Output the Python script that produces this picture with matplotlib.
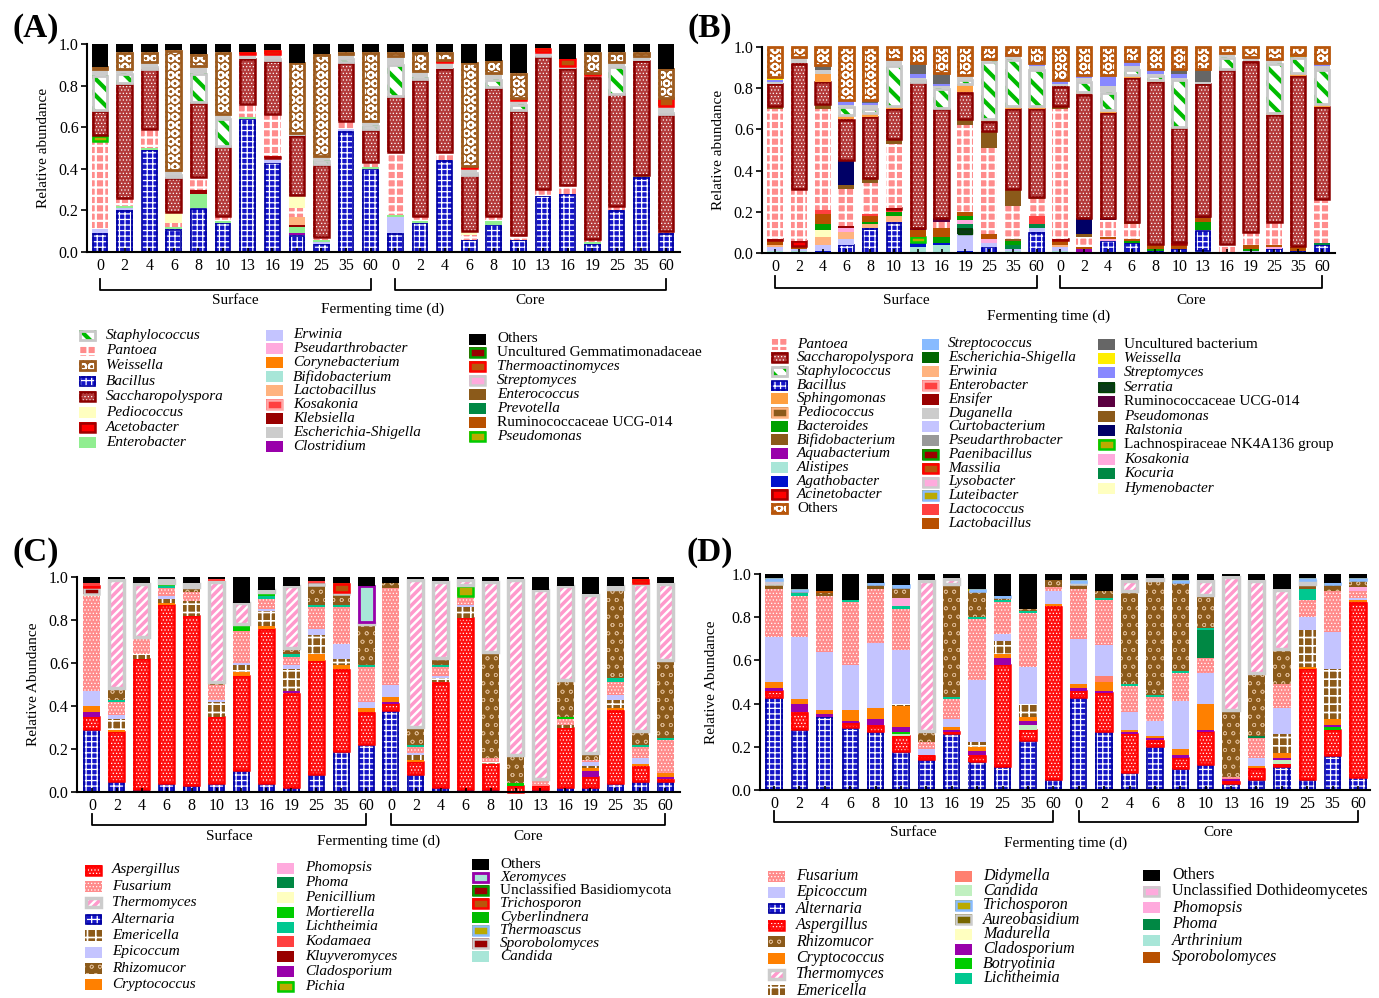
import numpy as np
import matplotlib
matplotlib.use("Agg")
import matplotlib.pyplot as plt
from matplotlib.patches import Rectangle
from matplotlib.transforms import blended_transform_factory
from matplotlib.ticker import FormatStrFormatter

plt.rcParams['font.family'] = ['Liberation Serif', 'DejaVu Serif']

W, H = 1379, 998

days = ['0', '2', '4', '6', '8', '10', '13', '16', '19', '25', '35', '60']
xlabels = days + days

# ---------------- (A) bacteria, first sample set ----------------
# 12 surface samples then 12 core samples
a_bacillus = [0.09, 0.20, 0.49, 0.11, 0.21, 0.14, 0.64, 0.43, 0.08, 0.04, 0.58, 0.40,
              0.09, 0.14, 0.44, 0.06, 0.13, 0.06, 0.27, 0.28, 0.04, 0.20, 0.36, 0.09]
a_clostridium = [0, 0, 0, 0, 0, 0, 0, 0, 0.01, 0, 0, 0, 0, 0, 0, 0, 0, 0, 0, 0, 0, 0, 0, 0]
a_erwinia = [0.02, 0.01, 0, 0, 0, 0, 0, 0.02, 0, 0.01, 0.01, 0,
             0.08, 0, 0, 0, 0, 0, 0, 0, 0, 0, 0, 0]
a_enterobacter = [0, 0.01, 0.01, 0.01, 0.07, 0.01, 0.01, 0, 0.03, 0.01, 0, 0.01,
                  0.01, 0.01, 0, 0, 0.02, 0, 0, 0, 0.01, 0, 0.01, 0]
a_klebsiella = [0, 0, 0, 0, 0.02, 0, 0, 0, 0.01, 0, 0, 0, 0, 0, 0, 0, 0, 0, 0, 0, 0, 0, 0, 0]
a_lactobacillus = [0, 0, 0, 0, 0, 0, 0, 0, 0.04, 0, 0, 0, 0, 0, 0, 0, 0, 0, 0, 0, 0, 0, 0, 0]
a_acetobacter = [0, 0, 0, 0, 0, 0, 0, 0.01, 0, 0, 0, 0, 0, 0, 0, 0, 0, 0, 0, 0, 0, 0, 0, 0]
a_pantoea = [0.42, 0.04, 0.09, 0.02, 0.06, 0.02, 0.06, 0.20, 0.04, 0.01, 0.04, 0.02,
             0.30, 0.02, 0.04, 0.02, 0.02, 0.02, 0.03, 0.04, 0.01, 0.02, 0, 0.01]
a_pediococcus = [0, 0, 0, 0.05, 0, 0, 0, 0, 0.06, 0, 0, 0,
                 0, 0, 0, 0.02, 0, 0, 0, 0, 0, 0, 0, 0]
a_pseudomonas = [0.03, 0, 0, 0, 0, 0, 0, 0, 0, 0, 0, 0, 0, 0, 0, 0, 0, 0, 0, 0, 0, 0, 0, 0]
a_saccharopolyspora = [0.12, 0.55, 0.29, 0.17, 0.36, 0.34, 0.22, 0.26, 0.29, 0.35, 0.28, 0.16,
                       0.27, 0.66, 0.40, 0.27, 0.62, 0.60, 0.64, 0.56, 0.78, 0.54, 0.55, 0.56]
a_staphylococcus = [0.17, 0.05, 0.01, 0.01, 0.14, 0.13, 0, 0.01, 0, 0.02, 0.02, 0.02,
                    0.15, 0.01, 0, 0.01, 0.04, 0.03, 0, 0, 0, 0.13, 0, 0.01]
a_escherichia = [0.03, 0.02, 0.02, 0.02, 0.03, 0.02, 0.02, 0.02, 0.01, 0.02, 0.02, 0.02,
                 0.04, 0.03, 0.03, 0.02, 0.03, 0.02, 0, 0.01, 0.01, 0.02, 0.02, 0.03]
a_streptomyces = [0, 0, 0, 0, 0, 0, 0, 0, 0, 0, 0, 0, 0, 0, 0, 0, 0, 0, 0.02, 0, 0, 0, 0, 0]
a_thermoactinomyces = [0, 0, 0, 0, 0, 0, 0.01, 0.02, 0, 0, 0, 0,
                       0, 0, 0.01, 0.01, 0, 0.01, 0.02, 0.04, 0.01, 0, 0, 0.04]
a_weissella = [0.01, 0.08, 0.05, 0.58, 0.06, 0.30, 0, 0, 0.34, 0.49, 0.01, 0.33,
               0.02, 0.09, 0.04, 0.50, 0.06, 0.12, 0, 0, 0.10, 0.05, 0.02, 0.14]
a_others = [0.11, 0.04, 0.04, 0.03, 0.05, 0.04, 0.04, 0.03, 0.09, 0.05, 0.04, 0.04,
            0.04, 0.04, 0.04, 0.09, 0.08, 0.14, 0.02, 0.07, 0.04, 0.04, 0.04, 0.12]

# ---------------- (B) bacteria, second sample set ----------------
b_alistipes = [0.01, 0.01, 0, 0, 0, 0, 0.03, 0.04, 0, 0, 0.01, 0,
               0.01, 0, 0, 0, 0, 0, 0.01, 0, 0, 0, 0, 0]
b_agathobacter = [0, 0, 0.01, 0, 0, 0, 0.02, 0.01, 0.01, 0, 0, 0, 0, 0, 0, 0, 0, 0, 0, 0, 0, 0, 0, 0]
b_bacillus = [0, 0, 0, 0.04, 0.12, 0.15, 0, 0, 0, 0.03, 0, 0.10,
              0, 0, 0.06, 0.05, 0.01, 0.02, 0.10, 0, 0, 0.02, 0.01, 0.04]
b_aquabacterium = [0, 0, 0, 0, 0, 0, 0, 0, 0, 0, 0, 0, 0, 0.02, 0, 0, 0, 0, 0, 0, 0, 0, 0, 0]
b_curtobacterium = [0.02, 0.01, 0.03, 0.03, 0, 0, 0, 0, 0.08, 0.02, 0.01, 0.02,
                    0.02, 0, 0, 0, 0, 0, 0, 0, 0.01, 0, 0, 0]
b_erwinia = [0.01, 0, 0.04, 0.03, 0.02, 0.03, 0, 0, 0, 0, 0, 0,
             0.01, 0, 0, 0, 0, 0, 0, 0, 0, 0, 0, 0]
b_hymenobacter = [0, 0, 0.03, 0, 0, 0, 0, 0, 0, 0, 0, 0, 0, 0, 0, 0, 0, 0, 0, 0, 0, 0, 0, 0]
b_serratia = [0, 0, 0, 0, 0, 0, 0, 0, 0.03, 0, 0, 0, 0, 0, 0, 0, 0, 0, 0, 0, 0, 0, 0, 0]
b_kocuria = [0, 0, 0, 0, 0, 0, 0, 0, 0.02, 0, 0.02, 0.02, 0, 0, 0, 0, 0, 0, 0, 0, 0, 0, 0, 0.01]
b_kosakonia = [0, 0, 0, 0.02, 0, 0, 0, 0, 0.02, 0.02, 0, 0, 0, 0, 0.01, 0, 0, 0, 0, 0, 0, 0.01, 0, 0]
b_ensifer = [0, 0, 0, 0.01, 0, 0, 0, 0, 0, 0, 0, 0, 0, 0, 0, 0, 0, 0, 0, 0, 0, 0, 0, 0]
b_lachnospiraceae = [0, 0, 0, 0, 0, 0, 0.03, 0, 0, 0, 0, 0, 0, 0, 0, 0, 0, 0, 0, 0, 0, 0, 0, 0]
b_bacteroides = [0, 0, 0.03, 0, 0.01, 0.02, 0, 0.03, 0.02, 0, 0.02, 0,
                 0, 0, 0, 0.01, 0.01, 0, 0.04, 0, 0.01, 0, 0, 0]
b_lactobacillus = [0.02, 0.01, 0.05, 0, 0.03, 0, 0.03, 0.04, 0.02, 0.02, 0, 0,
                   0.02, 0.01, 0.01, 0.01, 0.02, 0.02, 0.02, 0, 0.02, 0.01, 0.02, 0]
b_lactococcus = [0, 0, 0.02, 0, 0.01, 0.01, 0, 0, 0, 0, 0, 0.04, 0, 0, 0, 0, 0, 0, 0, 0, 0, 0, 0, 0]
b_acinetobacter = [0.01, 0.03, 0, 0, 0, 0.01, 0, 0, 0, 0, 0, 0,
                   0.01, 0, 0, 0, 0, 0.01, 0, 0, 0, 0, 0, 0]
b_bifidobacterium = [0, 0, 0, 0, 0, 0, 0, 0, 0, 0, 0.01, 0, 0, 0, 0, 0, 0, 0, 0, 0, 0, 0, 0, 0]
b_pantoea = [0.63, 0.25, 0.49, 0.18, 0.15, 0.31, 0, 0.03, 0.42, 0.42, 0.16, 0.08,
             0.63, 0.05, 0.08, 0.07, 0, 0, 0, 0.04, 0.06, 0.11, 0, 0.21]
b_pseudomonas = [0.01, 0, 0.02, 0.02, 0.02, 0.02, 0, 0, 0.03, 0.08, 0.08, 0.01,
                 0.01, 0.01, 0, 0.01, 0, 0, 0, 0, 0, 0, 0, 0]
b_ralstonia = [0, 0, 0, 0.12, 0, 0, 0, 0, 0, 0, 0, 0, 0, 0.08, 0.01, 0, 0, 0, 0, 0, 0, 0, 0, 0]
b_ruminococcaceae = [0, 0, 0, 0, 0, 0, 0.01, 0.02, 0, 0, 0, 0, 0, 0, 0, 0, 0, 0, 0.01, 0, 0, 0, 0, 0]
b_saccharopolyspora = [0.11, 0.61, 0.11, 0.20, 0.30, 0.15, 0.71, 0.53, 0.13, 0.05, 0.39, 0.43,
                       0.10, 0.60, 0.51, 0.70, 0.79, 0.56, 0.64, 0.85, 0.83, 0.52, 0.83, 0.45]
b_sphingomonas = [0, 0, 0.04, 0.02, 0.02, 0.01, 0, 0, 0.04, 0.01, 0.01, 0.01,
                  0, 0.01, 0.01, 0.01, 0.01, 0, 0, 0, 0, 0.01, 0.01, 0.01]
b_staphylococcus = [0, 0, 0, 0.04, 0.02, 0.20, 0.01, 0.10, 0.02, 0.28, 0.23, 0.18,
                    0, 0.05, 0.09, 0.03, 0.02, 0.23, 0, 0.06, 0, 0.24, 0.08, 0.17]
b_duganella = [0.01, 0.02, 0.02, 0.01, 0.02, 0.02, 0.01, 0.01, 0.02, 0.01, 0.01, 0.02,
               0.01, 0.02, 0.03, 0.02, 0.01, 0.01, 0.01, 0.02, 0.01, 0.01, 0, 0.02]
b_streptomyces = [0.01, 0.01, 0, 0.02, 0.01, 0.01, 0.02, 0.01, 0, 0, 0.01, 0.01,
                  0.02, 0.01, 0.05, 0.02, 0.02, 0.02, 0, 0, 0.01, 0.01, 0, 0.01]
b_uncultured = [0, 0, 0.02, 0, 0.01, 0, 0.05, 0.05, 0, 0, 0, 0,
                0, 0, 0, 0, 0, 0.02, 0.06, 0, 0, 0, 0, 0]
b_weissella = [0.01, 0, 0, 0, 0, 0, 0, 0, 0, 0, 0, 0, 0, 0, 0, 0, 0, 0, 0, 0, 0, 0, 0.01, 0]
b_others = [0.15, 0.05, 0.09, 0.26, 0.26, 0.06, 0.08, 0.13, 0.14, 0.06, 0.04, 0.08,
            0.16, 0.14, 0.14, 0.07, 0.11, 0.11, 0.11, 0.03, 0.05, 0.06, 0.04, 0.08]

# ---------------- (C) fungi, first sample set ----------------
c_alternaria = [0.29, 0.05, 0.01, 0.04, 0.03, 0.04, 0.10, 0.04, 0.02, 0.08, 0.19, 0.22,
                0.38, 0.08, 0.02, 0.01, 0.01, 0, 0.01, 0.02, 0.02, 0.04, 0.05, 0.05]
c_aspergillus = [0.06, 0.23, 0.61, 0.83, 0.79, 0.31, 0.44, 0.72, 0.44, 0.53, 0.38, 0.15,
                 0.03, 0.06, 0.49, 0.80, 0.12, 0.03, 0.02, 0.28, 0.05, 0.34, 0.07, 0.01]
c_cladosporium = [0.02, 0, 0, 0, 0, 0, 0, 0, 0.01, 0, 0, 0,
                  0.01, 0, 0, 0, 0, 0, 0, 0, 0.03, 0, 0, 0.01]
c_cryptococcus = [0.03, 0.01, 0, 0.01, 0, 0, 0.02, 0.01, 0, 0.03, 0.02, 0.02,
                  0.02, 0.01, 0, 0, 0, 0, 0, 0, 0.01, 0.01, 0.01, 0.02]
c_emericella = [0, 0.05, 0.02, 0.02, 0.07, 0.07, 0.03, 0.07, 0.10, 0.09, 0.03, 0,
                0, 0.02, 0.02, 0.05, 0.01, 0, 0, 0.01, 0.01, 0.04, 0, 0]
c_epicoccum = [0.07, 0.02, 0, 0.01, 0, 0.01, 0.01, 0.01, 0.02, 0.03, 0.07, 0.03,
               0.06, 0.01, 0.01, 0.01, 0, 0, 0, 0, 0.02, 0.02, 0.03, 0]
c_fusarium = [0.44, 0.06, 0.07, 0.04, 0.04, 0.07, 0.15, 0.05, 0.04, 0.10, 0.17, 0.16,
              0.45, 0.03, 0.04, 0.04, 0.02, 0, 0.02, 0.03, 0.01, 0.06, 0.05, 0.15]
c_penicillium = [0.01, 0, 0, 0, 0, 0, 0, 0, 0, 0, 0, 0, 0, 0, 0, 0, 0, 0, 0, 0, 0, 0, 0, 0]
c_lichtheimia = [0, 0.01, 0, 0.01, 0, 0, 0, 0.01, 0.01, 0.01, 0.01, 0.01,
                 0, 0.01, 0.01, 0, 0, 0, 0, 0, 0, 0.02, 0.01, 0.01]
c_mortierella = [0, 0, 0.01, 0.01, 0, 0, 0.03, 0.02, 0, 0, 0, 0,
                 0, 0, 0, 0, 0, 0.01, 0.01, 0.01, 0, 0, 0, 0]
c_pichia = [0, 0, 0, 0, 0, 0, 0, 0, 0, 0, 0, 0, 0, 0, 0, 0.05, 0, 0, 0, 0, 0, 0, 0, 0]
c_rhizomucor = [0, 0.05, 0, 0, 0.02, 0.01, 0, 0, 0.03, 0.09, 0.05, 0.19,
                0.02, 0.08, 0.03, 0, 0.49, 0.13, 0, 0.17, 0.03, 0.41, 0.06, 0.36]
c_thermomyces = [0, 0.51, 0.25, 0.02, 0.02, 0.47, 0.10, 0.01, 0.29, 0, 0, 0.01,
                 0, 0.69, 0.36, 0.03, 0.33, 0.82, 0.88, 0.44, 0.74, 0.02, 0.69, 0.36]
c_xeromyces = [0, 0, 0, 0, 0, 0, 0, 0, 0, 0, 0, 0.17, 0, 0, 0, 0, 0, 0, 0, 0, 0, 0, 0, 0]
c_sporobolomyces = [0.03, 0, 0, 0, 0, 0, 0, 0, 0, 0.01, 0.01, 0, 0, 0, 0, 0, 0, 0, 0, 0, 0, 0, 0, 0]
c_trichosporon = [0.01, 0, 0, 0, 0, 0, 0, 0, 0, 0, 0.04, 0, 0, 0, 0, 0, 0, 0, 0, 0, 0, 0, 0.02, 0]
c_kodamaea = [0.01, 0, 0, 0, 0, 0.01, 0, 0, 0, 0.01, 0, 0, 0, 0, 0, 0, 0, 0, 0, 0, 0, 0, 0, 0]
c_others = [0.03, 0.01, 0.03, 0.01, 0.03, 0.01, 0.12, 0.06, 0.04, 0.02, 0.03, 0.04,
            0.03, 0.01, 0.02, 0.01, 0.02, 0.01, 0.06, 0.04, 0.08, 0.04, 0.01, 0.03]

# ---------------- (D) fungi, second sample set ----------------
d_alternaria = [0.43, 0.28, 0.34, 0.29, 0.27, 0.18, 0.14, 0.26, 0.13, 0.11, 0.23, 0.05,
                0.43, 0.27, 0.08, 0.20, 0.10, 0.12, 0.03, 0.05, 0.11, 0.05, 0.16, 0.06]
d_aspergillus = [0.03, 0.08, 0, 0.02, 0.03, 0.07, 0.02, 0.01, 0.03, 0.47, 0.05, 0.80,
                 0.03, 0.18, 0.18, 0.03, 0.05, 0.15, 0.01, 0.05, 0.01, 0.51, 0.12, 0.81]
d_candida = [0, 0, 0, 0, 0, 0.01, 0, 0, 0, 0, 0.02, 0, 0, 0, 0, 0, 0, 0, 0, 0, 0.02, 0, 0, 0]
d_botryotinia = [0, 0, 0, 0, 0, 0.01, 0, 0, 0, 0, 0, 0, 0, 0, 0, 0, 0, 0, 0, 0, 0, 0, 0.01, 0]
d_cladosporium = [0.01, 0.04, 0.01, 0.01, 0.03, 0.02, 0, 0.01, 0.02, 0.03, 0.02, 0,
                  0.01, 0.01, 0.01, 0.01, 0.01, 0.01, 0.01, 0, 0.01, 0, 0.01, 0]
d_cryptococcus = [0.03, 0.02, 0.02, 0.05, 0.05, 0.10, 0, 0.01, 0.02, 0.02, 0.02, 0.01,
                  0.02, 0.04, 0.01, 0.01, 0.03, 0.12, 0, 0.01, 0.02, 0.01, 0.03, 0.01]
d_emericella = [0, 0, 0, 0, 0, 0.01, 0, 0, 0.02, 0.06, 0.06, 0,
                0, 0, 0, 0, 0, 0, 0, 0, 0.09, 0.17, 0.23, 0]
d_didymella = [0, 0, 0, 0, 0, 0, 0, 0, 0, 0, 0, 0, 0, 0.03, 0, 0, 0, 0, 0, 0, 0, 0, 0, 0]
d_epicoccum = [0.21, 0.29, 0.27, 0.21, 0.30, 0.25, 0.03, 0.04, 0.29, 0.03, 0.17, 0.06,
               0.21, 0.14, 0.08, 0.07, 0.22, 0.14, 0, 0.04, 0.12, 0.06, 0.17, 0.01]
d_fusarium = [0.22, 0.19, 0.26, 0.29, 0.25, 0.19, 0.03, 0.09, 0.28, 0.15, 0.25, 0.02,
              0.23, 0.21, 0.12, 0.11, 0.13, 0.07, 0.01, 0.09, 0.11, 0.08, 0.19, 0.03]
d_phoma = [0, 0, 0, 0, 0, 0, 0, 0, 0, 0, 0, 0, 0, 0, 0, 0, 0, 0.13, 0, 0.01, 0, 0, 0, 0]
d_lichtheimia = [0, 0.01, 0, 0.01, 0, 0.01, 0, 0.01, 0.01, 0.01, 0.01, 0,
                 0, 0.01, 0.01, 0.01, 0.01, 0.01, 0, 0, 0, 0.05, 0, 0]
d_phomopsis = [0, 0, 0, 0, 0, 0.04, 0, 0, 0, 0, 0, 0, 0, 0, 0, 0, 0, 0, 0, 0, 0, 0, 0, 0.02]
d_rhizomucor = [0.02, 0, 0.01, 0, 0.02, 0.05, 0.05, 0.52, 0.12, 0.01, 0.01, 0.03,
                0.02, 0.03, 0.42, 0.53, 0.41, 0.15, 0.31, 0.29, 0.16, 0.02, 0.03, 0.03]
d_sporobolomyces = [0, 0.01, 0.01, 0, 0, 0, 0, 0, 0, 0, 0, 0, 0, 0, 0.01, 0, 0, 0, 0, 0, 0, 0, 0, 0]
d_thermomyces = [0, 0, 0, 0, 0, 0, 0.70, 0.03, 0, 0, 0, 0,
                 0, 0, 0.05, 0.01, 0, 0.07, 0.62, 0.43, 0.28, 0.02, 0, 0]
d_unclassified = [0.02, 0, 0, 0, 0, 0, 0, 0, 0, 0, 0, 0, 0.01, 0, 0, 0, 0, 0, 0, 0, 0, 0, 0, 0]
d_trichosporon = [0.01, 0.01, 0, 0, 0.01, 0.01, 0, 0, 0.01, 0.01, 0, 0,
                  0.01, 0, 0, 0, 0.01, 0, 0, 0, 0, 0.01, 0.01, 0.01]
d_others = [0.02, 0.07, 0.08, 0.12, 0.04, 0.05, 0.03, 0.02, 0.07, 0.10, 0.16, 0.03,
            0.03, 0.08, 0.03, 0.02, 0.03, 0.03, 0.01, 0.03, 0.07, 0.02, 0.04, 0.02]


def sty(face, hatch=None, hc='white', edge=None, lw=0.0, hlw=1.0):
    return dict(face=face, hatch=hatch, hc=hc, edge=edge, lw=lw, hlw=hlw)


BRICK = sty('#1414C8', '+++', 'white', '#0000A0', 1.2, 0.9)
LADDER = sty('#FF8C8C', '++', 'white', None, 0, 1.6)
SACCH = sty('#B33A3A', '.....', 'white', '#8B0000', 1.8, 0.5)
STAPH = sty('white', '\\\\', '#00BB00', '#C8C8C8', 2.0, 3.0)
ASPERG = sty('#FF1010', '.....', 'white', '#FF0000', 1.8, 0.5)
FUSAR = sty('#FF8C8C', '.....', 'white', None, 0, 0.5)
THERMO = sty('white', '////', '#FF99CC', '#CCCCCC', 2.5, 2.5)
RHIZO = sty('#8B5A1A', 'oo', '#D9B48C', None, 0, 0.5)
EMERI = sty('#8B5A1A', '++', 'white', None, 0, 1.2)

styles_a = {
    'Staphylococcus': STAPH, 'Pantoea': LADDER,
    'Weissella': sty('#9C5B1E', 'OO', 'white', '#9C5B1E', 2.0, 1.4),
    'Bacillus': BRICK, 'Saccharopolyspora': SACCH,
    'Pediococcus': sty('#FFFFC0'),
    'Acetobacter': sty('#FF0000', edge='#A00000', lw=1.8),
    'Enterobacter': sty('#90EE90'),
    'Erwinia': sty('#C4C4FF'), 'Pseudarthrobacter': sty('#FFAADD'),
    'Corynebacterium': sty('#FF8000'), 'Bifidobacterium': sty('#A8E6D8'),
    'Lactobacillus': sty('#FFB37F'),
    'Kosakonia': sty('#FF4040', edge='#FFA8A8', lw=1.8),
    'Klebsiella': sty('#990000'), 'Escherichia-Shigella': sty('#CCCCCC'),
    'Clostridium': sty('#9900AA'), 'Others': sty('black'),
    'Uncultured Gemmatimonadaceae': sty('#990000', edge='#00A000', lw=1.8),
    'Thermoactinomyces': sty('#B8560B', edge='#FF0000', lw=1.8),
    'Streptomyces': sty('#FFAADD', edge='#CCCCCC', lw=1.8),
    'Enterococcus': sty('#8B5A1A'), 'Prevotella': sty('#008844'),
    'Ruminococcaceae UCG-014': sty('#B85000'),
    'Pseudomonas': sty('#BBAA00', edge='#00CC00', lw=1.8),
}
layers_a = [
    ('Bacillus', a_bacillus), ('Clostridium', a_clostridium), ('Erwinia', a_erwinia),
    ('Enterobacter', a_enterobacter), ('Klebsiella', a_klebsiella),
    ('Lactobacillus', a_lactobacillus), ('Acetobacter', a_acetobacter),
    ('Pantoea', a_pantoea), ('Pediococcus', a_pediococcus), ('Pseudomonas', a_pseudomonas),
    ('Saccharopolyspora', a_saccharopolyspora), ('Staphylococcus', a_staphylococcus),
    ('Escherichia-Shigella', a_escherichia), ('Streptomyces', a_streptomyces),
    ('Thermoactinomyces', a_thermoactinomyces), ('Weissella', a_weissella),
    ('Others', a_others),
]
legend_a = [
    (79, 106, 335, 15.4, ['Staphylococcus', 'Pantoea', 'Weissella', 'Bacillus',
                          'Saccharopolyspora', 'Pediococcus', 'Acetobacter', 'Enterobacter']),
    (266, 293, 335, 13.9, ['Erwinia', 'Pseudarthrobacter', 'Corynebacterium', 'Bifidobacterium',
                           'Lactobacillus', 'Kosakonia', 'Klebsiella', 'Escherichia-Shigella',
                           'Clostridium']),
    (469, 497, 339, 13.9, ['Others', 'Uncultured Gemmatimonadaceae', 'Thermoactinomyces',
                           'Streptomyces', 'Enterococcus', 'Prevotella',
                           'Ruminococcaceae UCG-014', 'Pseudomonas']),
]

styles_b = {
    'Pantoea': LADDER, 'Saccharopolyspora': SACCH, 'Staphylococcus': STAPH, 'Bacillus': BRICK,
    'Sphingomonas': sty('#FFA040'),
    'Pediococcus': sty('#8B5A1A', edge='#FFB37F', lw=1.8),
    'Bacteroides': sty('#00A000'), 'Bifidobacterium': sty('#8B5A1A'),
    'Aquabacterium': sty('#9900AA'), 'Alistipes': sty('#A8E6D8'),
    'Agathobacter': sty('#0010CC'),
    'Acinetobacter': sty('#FF0000', edge='#A00000', lw=1.8),
    'Others': sty('#B8560B', 'OO', 'white', '#B8560B', 2.0, 1.4),
    'Streptococcus': sty('#88BBFF'), 'Escherichia-Shigella': sty('#006600'),
    'Erwinia': sty('#FFB37F'),
    'Enterobacter': sty('#FF4040', edge='#FFA8A8', lw=1.8),
    'Ensifer': sty('#990000'), 'Duganella': sty('#CCCCCC'),
    'Curtobacterium': sty('#C4C4FF'), 'Pseudarthrobacter': sty('#999999'),
    'Paenibacillus': sty('#990000', edge='#00A000', lw=1.8),
    'Massilia': sty('#B8560B', edge='#FF0000', lw=1.8),
    'Lysobacter': sty('#FFAADD', edge='#CCCCCC', lw=1.8),
    'Luteibacter': sty('#BBAA00', edge='#88BBFF', lw=1.8),
    'Lactococcus': sty('#FF4040'), 'Lactobacillus': sty('#B85000'),
    'Uncultured bacterium': sty('#666666'), 'Weissella': sty('#FFEE00'),
    'Streptomyces': sty('#8888FF'),
    'Serratia': sty('#0A3A1A', edge='#004400', lw=1.0),
    'Ruminococcaceae UCG-014': sty('#5A0040'), 'Pseudomonas': sty('#8B5A1A'),
    'Ralstonia': sty('#000066'),
    'Lachnospiraceae NK4A136 group': sty('#BBAA00', edge='#00CC00', lw=1.8),
    'Kosakonia': sty('#FFAADD'), 'Kocuria': sty('#008844'), 'Hymenobacter': sty('#FFFFC0'),
}
layers_b = [
    ('Alistipes', b_alistipes), ('Agathobacter', b_agathobacter), ('Bacillus', b_bacillus),
    ('Aquabacterium', b_aquabacterium), ('Curtobacterium', b_curtobacterium),
    ('Erwinia', b_erwinia), ('Hymenobacter', b_hymenobacter), ('Serratia', b_serratia),
    ('Kocuria', b_kocuria), ('Kosakonia', b_kosakonia), ('Ensifer', b_ensifer),
    ('Lachnospiraceae NK4A136 group', b_lachnospiraceae), ('Bacteroides', b_bacteroides),
    ('Lactobacillus', b_lactobacillus), ('Lactococcus', b_lactococcus),
    ('Acinetobacter', b_acinetobacter), ('Bifidobacterium', b_bifidobacterium),
    ('Pantoea', b_pantoea), ('Pseudomonas', b_pseudomonas), ('Ralstonia', b_ralstonia),
    ('Ruminococcaceae UCG-014', b_ruminococcaceae),
    ('Saccharopolyspora', b_saccharopolyspora), ('Sphingomonas', b_sphingomonas),
    ('Staphylococcus', b_staphylococcus), ('Duganella', b_duganella),
    ('Streptomyces', b_streptomyces), ('Uncultured bacterium', b_uncultured),
    ('Weissella', b_weissella), ('Others', b_others),
]
legend_b = [
    (771, 797, 344, 13.7, ['Pantoea', 'Saccharopolyspora', 'Staphylococcus', 'Bacillus',
                           'Sphingomonas', 'Pediococcus', 'Bacteroides', 'Bifidobacterium',
                           'Aquabacterium', 'Alistipes', 'Agathobacter', 'Acinetobacter',
                           'Others']),
    (922, 948, 344, 13.8, ['Streptococcus', 'Escherichia-Shigella', 'Erwinia', 'Enterobacter',
                           'Ensifer', 'Duganella', 'Curtobacterium', 'Pseudarthrobacter',
                           'Paenibacillus', 'Massilia', 'Lysobacter', 'Luteibacter',
                           'Lactococcus', 'Lactobacillus']),
    (1098, 1124, 344, 14.4, ['Uncultured bacterium', 'Weissella', 'Streptomyces', 'Serratia',
                             'Ruminococcaceae UCG-014', 'Pseudomonas', 'Ralstonia',
                             'Lachnospiraceae NK4A136 group', 'Kosakonia', 'Kocuria',
                             'Hymenobacter']),
]

styles_c = {
    'Aspergillus': ASPERG, 'Fusarium': FUSAR, 'Thermomyces': THERMO, 'Alternaria': BRICK,
    'Emericella': EMERI, 'Epicoccum': sty('#C4C4FF'), 'Rhizomucor': RHIZO,
    'Cryptococcus': sty('#FF8000'), 'Phomopsis': sty('#FFAADD'), 'Phoma': sty('#008844'),
    'Penicillium': sty('#FFFFC0'), 'Mortierella': sty('#00CC00'),
    'Lichtheimia': sty('#00C890'), 'Kodamaea': sty('#FF4040'),
    'Kluyveromyces': sty('#990000'), 'Cladosporium': sty('#9900AA'),
    'Pichia': sty('#BBAA00', edge='#00CC00', lw=1.8), 'Others': sty('black'),
    'Xeromyces': sty('#A8E6D8', edge='#9900AA', lw=2.0),
    'Unclassified Basidiomycota': sty('#990000', edge='#00A000', lw=1.8),
    'Trichosporon': sty('#B8560B', edge='#FF0000', lw=1.8),
    'Cyberlindnera': sty('#00BB00'),
    'Thermoascus': sty('#BBAA00', edge='#88BBFF', lw=1.8),
    'Sporobolomyces': sty('#990000', edge='#CCCCCC', lw=1.8),
    'Candida': sty('#A8E6D8'),
}
layers_c = [
    ('Alternaria', c_alternaria), ('Aspergillus', c_aspergillus),
    ('Cladosporium', c_cladosporium), ('Cryptococcus', c_cryptococcus),
    ('Emericella', c_emericella), ('Epicoccum', c_epicoccum), ('Fusarium', c_fusarium),
    ('Penicillium', c_penicillium), ('Lichtheimia', c_lichtheimia),
    ('Mortierella', c_mortierella), ('Pichia', c_pichia), ('Rhizomucor', c_rhizomucor),
    ('Thermomyces', c_thermomyces), ('Xeromyces', c_xeromyces),
    ('Sporobolomyces', c_sporobolomyces), ('Trichosporon', c_trichosporon),
    ('Kodamaea', c_kodamaea), ('Others', c_others),
]
legend_c = [
    (85, 112, 870, 16.4, ['Aspergillus', 'Fusarium', 'Thermomyces', 'Alternaria',
                          'Emericella', 'Epicoccum', 'Rhizomucor', 'Cryptococcus']),
    (277, 305, 868, 14.75, ['Phomopsis', 'Phoma', 'Penicillium', 'Mortierella', 'Lichtheimia',
                            'Kodamaea', 'Kluyveromyces', 'Cladosporium', 'Pichia']),
    (472, 500, 864, 13.25, ['Others', 'Xeromyces', 'Unclassified Basidiomycota',
                            'Trichosporon', 'Cyberlindnera', 'Thermoascus',
                            'Sporobolomyces', 'Candida']),
]

styles_d = {
    'Fusarium': FUSAR, 'Epicoccum': sty('#C4C4FF'), 'Alternaria': BRICK,
    'Aspergillus': ASPERG, 'Rhizomucor': RHIZO, 'Cryptococcus': sty('#FF8000'),
    'Thermomyces': THERMO, 'Emericella': EMERI, 'Didymella': sty('#FF8070'),
    'Candida': sty('#C0F0C0'),
    'Trichosporon': sty('#BBAA00', edge='#88BBFF', lw=1.8),
    'Aureobasidium': sty('#776600', edge='#CCCCCC', lw=1.8),
    'Madurella': sty('#FFFFC0'), 'Cladosporium': sty('#9900AA'),
    'Botryotinia': sty('#00CC00'), 'Lichtheimia': sty('#00C890'), 'Others': sty('black'),
    'Unclassified Dothideomycetes': sty('#FFAADD', edge='#CCCCCC', lw=1.8),
    'Phomopsis': sty('#FFAADD'), 'Phoma': sty('#008844'), 'Arthrinium': sty('#A8E6D8'),
    'Sporobolomyces': sty('#B85000'),
}
layers_d = [
    ('Alternaria', d_alternaria), ('Aspergillus', d_aspergillus), ('Candida', d_candida),
    ('Botryotinia', d_botryotinia), ('Cladosporium', d_cladosporium),
    ('Cryptococcus', d_cryptococcus), ('Emericella', d_emericella),
    ('Didymella', d_didymella), ('Epicoccum', d_epicoccum), ('Fusarium', d_fusarium),
    ('Phoma', d_phoma), ('Lichtheimia', d_lichtheimia), ('Phomopsis', d_phomopsis),
    ('Rhizomucor', d_rhizomucor), ('Sporobolomyces', d_sporobolomyces),
    ('Thermomyces', d_thermomyces), ('Unclassified Dothideomycetes', d_unclassified),
    ('Trichosporon', d_trichosporon), ('Others', d_others),
]
legend_d = [
    (768, 796, 876, 16.4, ['Fusarium', 'Epicoccum', 'Alternaria', 'Aspergillus', 'Rhizomucor',
                           'Cryptococcus', 'Thermomyces', 'Emericella']),
    (955, 983, 876, 14.6, ['Didymella', 'Candida', 'Trichosporon', 'Aureobasidium', 'Madurella',
                           'Cladosporium', 'Botryotinia', 'Lichtheimia']),
    (1143, 1172, 875, 16.4, ['Others', 'Unclassified Dothideomycetes', 'Phomopsis', 'Phoma',
                             'Arthrinium', 'Sporobolomyces']),
]

upright = {'Others', 'Uncultured Gemmatimonadaceae', 'Ruminococcaceae UCG-014',
           'Uncultured bacterium', 'Lachnospiraceae NK4A136 group',
           'Unclassified Basidiomycota', 'Unclassified Dothideomycetes'}


def set_hatch_lw(patches, hlw):
    for p in patches:
        if hasattr(p, 'set_hatch_linewidth'):
            p.set_hatch_linewidth(hlw)


def draw_stack(ax, layers, styles, width=0.68):
    x = np.arange(24)
    bottom = np.zeros(24)
    for name, vals in layers:
        v = np.asarray(vals, dtype=float)
        s = styles[name]
        m = v > 0
        with plt.rc_context({'hatch.linewidth': s['hlw']}):
            bars = ax.bar(x[m], v[m], width, bottom=bottom[m], color=s['face'],
                          edgecolor=s['hc'] if s['hatch'] else s['face'],
                          hatch=s['hatch'], linewidth=0, clip_on=False)
        set_hatch_lw(bars, s['hlw'])
        if s['edge']:
            ax.bar(x[m], v[m] - 0.004, width - 0.08, bottom=bottom[m] + 0.002, fill=False,
                   edgecolor=s['edge'], linewidth=s['lw'], clip_on=False)
        bottom += v


def style_axes(ax, xlim, ylab, lab_px):
    ax.set_xlim(*xlim)
    ax.set_ylim(0, 1.0)
    for side in ('top', 'right'):
        ax.spines[side].set_visible(False)
    for side in ('left', 'bottom'):
        ax.spines[side].set_linewidth(1.5)
    ax.set_xticks(np.arange(24))
    ax.set_xticklabels(xlabels)
    ax.set_yticks(np.arange(0, 1.01, 0.2))
    ax.yaxis.set_major_formatter(FormatStrFormatter('%.1f'))
    ax.tick_params(axis='x', direction='in', length=3, width=1.2, labelsize=11.5, pad=4)
    ax.tick_params(axis='y', direction='out', length=4, width=1.2, labelsize=11.5, pad=2)
    ax.set_ylabel(ylab, fontsize=11)
    w_px = ax.get_position().width * W
    ax.yaxis.set_label_coords(-lab_px / w_px, 0.5)


def group_brackets(ax, tip_px, line_px, lab_px, ferm_px):
    h_px = ax.get_position().height * H
    tr = blended_transform_factory(ax.transData, ax.transAxes)
    yt, yl, yg, yf = (-tip_px / h_px, -line_px / h_px, -lab_px / h_px, -ferm_px / h_px)
    for x0, x1, name in ((0, 11, 'Surface'), (12, 23, 'Core')):
        ax.plot([x0, x0, x1, x1], [yt, yl, yl, yt], transform=tr, color='black',
                lw=1.3, clip_on=False)
        ax.text((x0 + x1) / 2, yg, name, transform=tr, ha='center', va='center', fontsize=11)
    ax.text(11.5, yf, 'Fermenting time (d)', transform=tr, ha='center', va='center',
            fontsize=11)


def draw_legend(over, columns, styles, fontsize):
    for sx, tx, y0, step, names in columns:
        for i, name in enumerate(names):
            yc = y0 + i * step
            s = styles[name]
            with plt.rc_context({'hatch.linewidth': s['hlw']}):
                r = Rectangle((sx, yc - 5.5), 17, 11, facecolor=s['face'],
                              edgecolor=s['hc'] if s['hatch'] else s['face'],
                              hatch=s['hatch'], linewidth=0)
            set_hatch_lw([r], s['hlw'])
            over.add_patch(r)
            if s['edge']:
                over.add_patch(Rectangle((sx + 1, yc - 4.5), 15, 9, fill=False,
                                         edgecolor=s['edge'], linewidth=s['lw']))
            italic = name not in upright
            over.text(tx, yc, name, fontsize=fontsize, va='center', ha='left',
                      style='italic' if italic else 'normal')


fig = plt.figure(figsize=(W / 100, H / 100), dpi=100)
over = fig.add_axes([0, 0, 1, 1])
over.set_xlim(0, W)
over.set_ylim(H, 0)
over.axis('off')

panels = [
    # rect px (left, top, right, bottom), xlim, ylabel, label offset, brackets, layers, styles, legend
    ((87, 44, 680, 252), (-0.53, 23.57), 'Relative abundance', 37, (27, 38, 49, 57),
     layers_a, styles_a, legend_a, 11, '(A)', (36, 28)),
    ((762, 47, 1335, 253), (-0.55, 23.55), 'Relative abundance', 37, (23, 35, 47, 63),
     layers_b, styles_b, legend_b, 11, '(B)', (710, 28)),
    ((77, 577, 680, 792), (-0.60, 23.6), 'Relative Abundance', 37, (22, 33, 44, 49),
     layers_c, styles_c, legend_c, 11, '(C)', (36, 553)),
    ((760, 574, 1370, 790), (-0.55, 23.47), 'Relative Abundance', 42, (21, 32, 43, 53),
     layers_d, styles_d, legend_d, 11.5, '(D)', (710, 553)),
]

for (l, t, r, b), xlim, ylab, lab_px, br, layers, styles, legend, lfs, tag, tagpos in panels:
    ax = fig.add_axes([l / W, 1 - b / H, (r - l) / W, (b - t) / H])
    draw_stack(ax, layers, styles)
    style_axes(ax, xlim, ylab, lab_px)
    group_brackets(ax, *br)
    draw_legend(over, legend, styles, lfs)
    over.text(tagpos[0], tagpos[1], tag, fontsize=24, fontweight='bold',
              ha='center', va='center')

fig.savefig('out.png', dpi=100)
